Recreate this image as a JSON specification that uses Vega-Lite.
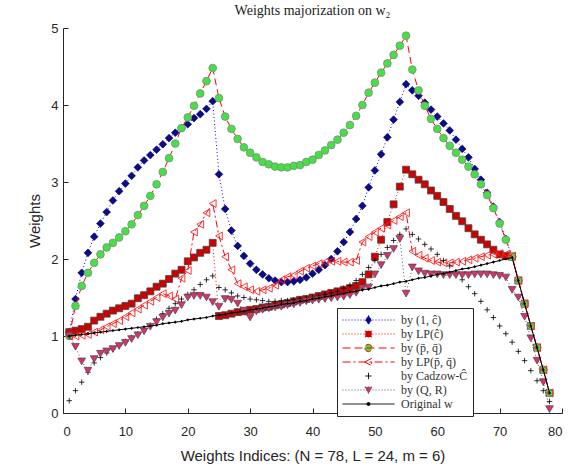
{
"$schema":"https://vega.github.io/schema/vega-lite/v6.json",
"autosize":{"type":"none"},
"width":499,"height":385,
"padding":{"left":63,"top":28,"right":14,"bottom":57},
"title":{"text":"Weights majorization on w₂","font":"Liberation Serif","fontSize":14,"fontWeight":"normal","color":"#222","offset":4},
"config":{"view":{"stroke":null},
"axis":{"grid":false,"domainColor":"#262626","tickColor":"#262626","labelColor":"#262626","titleColor":"#262626","labelFont":"Liberation Sans","labelFontSize":13,"titleFont":"Liberation Sans","titleFontSize":15,"titleFontWeight":"normal","tickSize":-5,"labelPadding":10},
"legend":{"orient":"none","legendX":274,"legendY":280,"title":null,"padding":5,"strokeColor":"#262626","fillColor":"white","labelFont":"Liberation Serif","labelFontSize":12,"labelColor":"#333","symbolSize":2704,"clipHeight":14,"labelOffset":6,"rowPadding":0,"symbolOpacity":1,"symbolStrokeWidth":1}},
"datasets":{
"a":[{"x":1,"y":1.05},{"x":2,"y":1.48},{"x":3,"y":1.82},{"x":4,"y":2.08},{"x":5,"y":2.29},{"x":6,"y":2.46},{"x":7,"y":2.61},{"x":8,"y":2.76},{"x":9,"y":2.88},{"x":10,"y":2.98},{"x":11,"y":3.08},{"x":12,"y":3.19},{"x":13,"y":3.28},{"x":14,"y":3.35},{"x":15,"y":3.42},{"x":16,"y":3.49},{"x":17,"y":3.57},{"x":18,"y":3.64},{"x":19,"y":3.70},{"x":20,"y":3.75},{"x":21,"y":3.83},{"x":22,"y":3.88},{"x":23,"y":3.95},{"x":24,"y":4.05},{"x":25,"y":3.10},{"x":26,"y":2.65},{"x":27,"y":2.37},{"x":28,"y":2.17},{"x":29,"y":2.04},{"x":30,"y":1.94},{"x":31,"y":1.86},{"x":32,"y":1.80},{"x":33,"y":1.75},{"x":34,"y":1.72},{"x":35,"y":1.70},{"x":36,"y":1.70},{"x":37,"y":1.71},{"x":38,"y":1.73},{"x":39,"y":1.76},{"x":40,"y":1.81},{"x":41,"y":1.86},{"x":42,"y":1.92},{"x":43,"y":2.00},{"x":44,"y":2.10},{"x":45,"y":2.22},{"x":46,"y":2.35},{"x":47,"y":2.52},{"x":48,"y":2.69},{"x":49,"y":2.93},{"x":50,"y":3.15},{"x":51,"y":3.36},{"x":52,"y":3.58},{"x":53,"y":3.81},{"x":54,"y":4.04},{"x":55,"y":4.27},{"x":56,"y":4.19},{"x":57,"y":4.12},{"x":58,"y":4.03},{"x":59,"y":3.94},{"x":60,"y":3.85},{"x":61,"y":3.76},{"x":62,"y":3.67},{"x":63,"y":3.55},{"x":64,"y":3.43},{"x":65,"y":3.32},{"x":66,"y":3.17},{"x":67,"y":3.03},{"x":68,"y":2.86},{"x":69,"y":2.68},{"x":70,"y":2.48},{"x":71,"y":2.26},{"x":72,"y":2.03},{"x":73,"y":1.72},{"x":74,"y":1.42},{"x":75,"y":1.13},{"x":76,"y":0.85},{"x":77,"y":0.56},{"x":78,"y":0.26}],
"b":[{"x":1,"y":1.05},{"x":2,"y":1.07},{"x":3,"y":1.09},{"x":4,"y":1.12},{"x":5,"y":1.20},{"x":6,"y":1.25},{"x":7,"y":1.29},{"x":8,"y":1.33},{"x":9,"y":1.36},{"x":10,"y":1.39},{"x":11,"y":1.42},{"x":12,"y":1.49},{"x":13,"y":1.53},{"x":14,"y":1.58},{"x":15,"y":1.64},{"x":16,"y":1.68},{"x":17,"y":1.74},{"x":18,"y":1.81},{"x":19,"y":1.86},{"x":20,"y":1.97},{"x":21,"y":2.02},{"x":22,"y":2.08},{"x":23,"y":2.12},{"x":24,"y":2.21},{"x":25,"y":1.26},{"x":26,"y":1.27},{"x":27,"y":1.29},{"x":28,"y":1.31},{"x":29,"y":1.32},{"x":30,"y":1.34},{"x":31,"y":1.35},{"x":32,"y":1.37},{"x":33,"y":1.38},{"x":34,"y":1.40},{"x":35,"y":1.41},{"x":36,"y":1.43},{"x":37,"y":1.45},{"x":38,"y":1.47},{"x":39,"y":1.48},{"x":40,"y":1.50},{"x":41,"y":1.52},{"x":42,"y":1.54},{"x":43,"y":1.56},{"x":44,"y":1.58},{"x":45,"y":1.60},{"x":46,"y":1.62},{"x":47,"y":1.65},{"x":48,"y":1.70},{"x":49,"y":1.80},{"x":50,"y":2.03},{"x":51,"y":2.25},{"x":52,"y":2.48},{"x":53,"y":2.71},{"x":54,"y":2.94},{"x":55,"y":3.16},{"x":56,"y":3.10},{"x":57,"y":3.03},{"x":58,"y":2.97},{"x":59,"y":2.89},{"x":60,"y":2.82},{"x":61,"y":2.74},{"x":62,"y":2.65},{"x":63,"y":2.56},{"x":64,"y":2.49},{"x":65,"y":2.40},{"x":66,"y":2.32},{"x":67,"y":2.25},{"x":68,"y":2.19},{"x":69,"y":2.12},{"x":70,"y":2.06},{"x":71,"y":2.04},{"x":72,"y":2.03},{"x":73,"y":1.72},{"x":74,"y":1.42},{"x":75,"y":1.13},{"x":76,"y":0.85},{"x":77,"y":0.56},{"x":78,"y":0.26}],
"c":[{"x":1,"y":1.00},{"x":2,"y":1.39},{"x":3,"y":1.65},{"x":4,"y":1.82},{"x":5,"y":1.95},{"x":6,"y":2.06},{"x":7,"y":2.15},{"x":8,"y":2.21},{"x":9,"y":2.28},{"x":10,"y":2.36},{"x":11,"y":2.45},{"x":12,"y":2.57},{"x":13,"y":2.69},{"x":14,"y":2.82},{"x":15,"y":2.97},{"x":16,"y":3.13},{"x":17,"y":3.31},{"x":18,"y":3.50},{"x":19,"y":3.70},{"x":20,"y":3.84},{"x":21,"y":3.99},{"x":22,"y":4.15},{"x":23,"y":4.31},{"x":24,"y":4.48},{"x":25,"y":4.09},{"x":26,"y":3.85},{"x":27,"y":3.69},{"x":28,"y":3.56},{"x":29,"y":3.45},{"x":30,"y":3.38},{"x":31,"y":3.32},{"x":32,"y":3.26},{"x":33,"y":3.23},{"x":34,"y":3.20},{"x":35,"y":3.19},{"x":36,"y":3.19},{"x":37,"y":3.21},{"x":38,"y":3.22},{"x":39,"y":3.26},{"x":40,"y":3.29},{"x":41,"y":3.35},{"x":42,"y":3.41},{"x":43,"y":3.48},{"x":44,"y":3.55},{"x":45,"y":3.64},{"x":46,"y":3.74},{"x":47,"y":3.86},{"x":48,"y":4.00},{"x":49,"y":4.16},{"x":50,"y":4.29},{"x":51,"y":4.42},{"x":52,"y":4.54},{"x":53,"y":4.65},{"x":54,"y":4.77},{"x":55,"y":4.90},{"x":56,"y":4.46},{"x":57,"y":4.19},{"x":58,"y":3.99},{"x":59,"y":3.82},{"x":60,"y":3.69},{"x":61,"y":3.57},{"x":62,"y":3.47},{"x":63,"y":3.38},{"x":64,"y":3.29},{"x":65,"y":3.20},{"x":66,"y":3.10},{"x":67,"y":2.97},{"x":68,"y":2.83},{"x":69,"y":2.66},{"x":70,"y":2.46},{"x":71,"y":2.25},{"x":72,"y":2.03},{"x":73,"y":1.72},{"x":74,"y":1.42},{"x":75,"y":1.13},{"x":76,"y":0.85},{"x":77,"y":0.56},{"x":78,"y":0.26}],
"d":[{"x":1,"y":1.00},{"x":2,"y":1.00},{"x":3,"y":1.01},{"x":4,"y":1.02},{"x":5,"y":1.05},{"x":6,"y":1.08},{"x":7,"y":1.12},{"x":8,"y":1.16},{"x":9,"y":1.20},{"x":10,"y":1.25},{"x":11,"y":1.30},{"x":12,"y":1.35},{"x":13,"y":1.40},{"x":14,"y":1.45},{"x":15,"y":1.50},{"x":16,"y":1.55},{"x":17,"y":1.52},{"x":18,"y":1.48},{"x":19,"y":1.75},{"x":20,"y":1.85},{"x":21,"y":2.35},{"x":22,"y":2.45},{"x":23,"y":2.60},{"x":24,"y":2.72},{"x":25,"y":2.30},{"x":26,"y":2.03},{"x":27,"y":1.86},{"x":28,"y":1.68},{"x":29,"y":1.64},{"x":30,"y":1.60},{"x":31,"y":1.58},{"x":32,"y":1.60},{"x":33,"y":1.62},{"x":34,"y":1.66},{"x":35,"y":1.73},{"x":36,"y":1.77},{"x":37,"y":1.79},{"x":38,"y":1.84},{"x":39,"y":1.88},{"x":40,"y":1.91},{"x":41,"y":1.94},{"x":42,"y":1.96},{"x":43,"y":1.97},{"x":44,"y":1.97},{"x":45,"y":1.96},{"x":46,"y":1.96},{"x":47,"y":1.98},{"x":48,"y":2.22},{"x":49,"y":2.29},{"x":50,"y":2.35},{"x":51,"y":2.40},{"x":52,"y":2.44},{"x":53,"y":2.50},{"x":54,"y":2.55},{"x":55,"y":2.60},{"x":56,"y":2.10},{"x":57,"y":2.05},{"x":58,"y":2.01},{"x":59,"y":1.98},{"x":60,"y":1.96},{"x":61,"y":1.95},{"x":62,"y":1.95},{"x":63,"y":1.96},{"x":64,"y":1.97},{"x":65,"y":1.99},{"x":66,"y":2.01},{"x":67,"y":2.03},{"x":68,"y":2.05},{"x":69,"y":2.06},{"x":70,"y":2.07},{"x":71,"y":2.06},{"x":72,"y":2.04},{"x":73,"y":1.72},{"x":74,"y":1.42},{"x":75,"y":1.13},{"x":76,"y":0.85},{"x":77,"y":0.56},{"x":78,"y":0.26}],
"e":[{"x":1,"y":0.16},{"x":2,"y":0.29},{"x":3,"y":0.40},{"x":4,"y":0.53},{"x":5,"y":0.65},{"x":6,"y":0.72},{"x":7,"y":0.78},{"x":8,"y":0.83},{"x":9,"y":0.88},{"x":10,"y":0.93},{"x":11,"y":0.98},{"x":12,"y":1.03},{"x":13,"y":1.08},{"x":14,"y":1.14},{"x":15,"y":1.22},{"x":16,"y":1.29},{"x":17,"y":1.36},{"x":18,"y":1.42},{"x":19,"y":1.48},{"x":20,"y":1.54},{"x":21,"y":1.60},{"x":22,"y":1.67},{"x":23,"y":1.73},{"x":24,"y":1.78},{"x":25,"y":1.63},{"x":26,"y":1.60},{"x":27,"y":1.56},{"x":28,"y":1.52},{"x":29,"y":1.50},{"x":30,"y":1.48},{"x":31,"y":1.47},{"x":32,"y":1.46},{"x":33,"y":1.45},{"x":34,"y":1.45},{"x":35,"y":1.46},{"x":36,"y":1.46},{"x":37,"y":1.47},{"x":38,"y":1.48},{"x":39,"y":1.49},{"x":40,"y":1.50},{"x":41,"y":1.52},{"x":42,"y":1.54},{"x":43,"y":1.56},{"x":44,"y":1.58},{"x":45,"y":1.62},{"x":46,"y":1.66},{"x":47,"y":1.72},{"x":48,"y":1.80},{"x":49,"y":1.89},{"x":50,"y":1.98},{"x":51,"y":2.06},{"x":52,"y":2.15},{"x":53,"y":2.24},{"x":54,"y":2.32},{"x":55,"y":2.39},{"x":56,"y":2.32},{"x":57,"y":2.26},{"x":58,"y":2.19},{"x":59,"y":2.13},{"x":60,"y":2.06},{"x":61,"y":1.98},{"x":62,"y":1.91},{"x":63,"y":1.82},{"x":64,"y":1.73},{"x":65,"y":1.64},{"x":66,"y":1.55},{"x":67,"y":1.45},{"x":68,"y":1.34},{"x":69,"y":1.24},{"x":70,"y":1.13},{"x":71,"y":1.03},{"x":72,"y":0.92},{"x":73,"y":0.80},{"x":74,"y":0.68},{"x":75,"y":0.55},{"x":76,"y":0.42},{"x":77,"y":0.29},{"x":78,"y":0.15}],
"f":[{"x":1,"y":1.00},{"x":2,"y":0.86},{"x":3,"y":0.67},{"x":4,"y":0.55},{"x":5,"y":0.70},{"x":6,"y":0.77},{"x":7,"y":0.80},{"x":8,"y":0.83},{"x":9,"y":0.87},{"x":10,"y":0.91},{"x":11,"y":0.96},{"x":12,"y":1.01},{"x":13,"y":1.06},{"x":14,"y":1.12},{"x":15,"y":1.18},{"x":16,"y":1.24},{"x":17,"y":1.29},{"x":18,"y":1.33},{"x":19,"y":1.40},{"x":20,"y":1.50},{"x":21,"y":1.52},{"x":22,"y":1.52},{"x":23,"y":1.50},{"x":24,"y":1.44},{"x":25,"y":1.38},{"x":26,"y":1.48},{"x":27,"y":1.47},{"x":28,"y":1.42},{"x":29,"y":1.33},{"x":30,"y":1.24},{"x":31,"y":1.32},{"x":32,"y":1.34},{"x":33,"y":1.36},{"x":34,"y":1.37},{"x":35,"y":1.38},{"x":36,"y":1.40},{"x":37,"y":1.41},{"x":38,"y":1.43},{"x":39,"y":1.45},{"x":40,"y":1.46},{"x":41,"y":1.47},{"x":42,"y":1.48},{"x":43,"y":1.49},{"x":44,"y":1.50},{"x":45,"y":1.51},{"x":46,"y":1.53},{"x":47,"y":1.56},{"x":48,"y":1.62},{"x":49,"y":1.63},{"x":50,"y":1.80},{"x":51,"y":1.92},{"x":52,"y":2.04},{"x":53,"y":2.13},{"x":54,"y":2.26},{"x":55,"y":1.55},{"x":56,"y":1.89},{"x":57,"y":1.84},{"x":58,"y":1.81},{"x":59,"y":1.80},{"x":60,"y":1.80},{"x":61,"y":1.79},{"x":62,"y":1.79},{"x":63,"y":1.79},{"x":64,"y":1.79},{"x":65,"y":1.79},{"x":66,"y":1.80},{"x":67,"y":1.80},{"x":68,"y":1.80},{"x":69,"y":1.79},{"x":70,"y":1.78},{"x":71,"y":1.76},{"x":72,"y":1.60},{"x":73,"y":1.50},{"x":74,"y":1.25},{"x":75,"y":0.97},{"x":76,"y":0.68},{"x":77,"y":0.40},{"x":78,"y":0.05}],
"g":[{"x":1,"y":1.00},{"x":2,"y":1.01},{"x":3,"y":1.02},{"x":4,"y":1.03},{"x":5,"y":1.04},{"x":6,"y":1.05},{"x":7,"y":1.06},{"x":8,"y":1.07},{"x":9,"y":1.08},{"x":10,"y":1.09},{"x":11,"y":1.10},{"x":12,"y":1.11},{"x":13,"y":1.12},{"x":14,"y":1.13},{"x":15,"y":1.14},{"x":16,"y":1.16},{"x":17,"y":1.17},{"x":18,"y":1.18},{"x":19,"y":1.19},{"x":20,"y":1.21},{"x":21,"y":1.22},{"x":22,"y":1.23},{"x":23,"y":1.24},{"x":24,"y":1.26},{"x":25,"y":1.27},{"x":26,"y":1.28},{"x":27,"y":1.30},{"x":28,"y":1.31},{"x":29,"y":1.32},{"x":30,"y":1.34},{"x":31,"y":1.35},{"x":32,"y":1.36},{"x":33,"y":1.38},{"x":34,"y":1.39},{"x":35,"y":1.41},{"x":36,"y":1.42},{"x":37,"y":1.43},{"x":38,"y":1.45},{"x":39,"y":1.46},{"x":40,"y":1.48},{"x":41,"y":1.49},{"x":42,"y":1.51},{"x":43,"y":1.52},{"x":44,"y":1.54},{"x":45,"y":1.55},{"x":46,"y":1.57},{"x":47,"y":1.58},{"x":48,"y":1.60},{"x":49,"y":1.61},{"x":50,"y":1.63},{"x":51,"y":1.65},{"x":52,"y":1.66},{"x":53,"y":1.68},{"x":54,"y":1.70},{"x":55,"y":1.71},{"x":56,"y":1.73},{"x":57,"y":1.75},{"x":58,"y":1.76},{"x":59,"y":1.78},{"x":60,"y":1.80},{"x":61,"y":1.81},{"x":62,"y":1.83},{"x":63,"y":1.85},{"x":64,"y":1.87},{"x":65,"y":1.88},{"x":66,"y":1.90},{"x":67,"y":1.92},{"x":68,"y":1.94},{"x":69,"y":1.96},{"x":70,"y":1.98},{"x":71,"y":2.00},{"x":72,"y":2.02},{"x":73,"y":1.72},{"x":74,"y":1.42},{"x":75,"y":1.13},{"x":76,"y":0.85},{"x":77,"y":0.56},{"x":78,"y":0.26}],
"legend":[{"s":"by (1, ĉ)    "},{"s":"by LP(ĉ)    "},{"s":"by (p̄, q̄)    "},{"s":"by LP(p̄, q̄)    "},{"s":"by Cadzow-Ĉ    "},{"s":"by (Q, R)    "},{"s":"Original w    "}]
},
"layer":[
{"data":{"name":"a"},"mark":{"type":"line","color":"#0000ff","strokeWidth":1,"strokeDash":[1,2.5]},"encoding":{"x":{"field":"x","type":"quantitative","scale":{"domain":[0,80],"nice":false},"axis":{"title":"Weights Indices: (N = 78, L = 24, m = 6)","values":[0,10,20,30,40,50,60,70,80],"labelPadding":17,"titlePadding":10}},"y":{"field":"y","type":"quantitative","scale":{"domain":[0,5],"nice":false},"axis":{"title":"Weights","values":[0,0.5,1,1.5,2,2.5,3,3.5,4,4.5,5],"format":"~g","titlePadding":8}}}},
{"data":{"name":"a"},"mark":{"type":"point","shape":"diamond","filled":true,"size":60,"fill":"#0a0a90","stroke":"#000045","strokeWidth":0.6,"opacity":1},"encoding":{"x":{"field":"x","type":"quantitative"},"y":{"field":"y","type":"quantitative"}}},
{"data":{"name":"b"},"mark":{"type":"line","color":"#ff0000","strokeWidth":1,"strokeDash":[1,2.5]},"encoding":{"x":{"field":"x","type":"quantitative"},"y":{"field":"y","type":"quantitative"}}},
{"data":{"name":"b"},"mark":{"type":"point","shape":"square","filled":true,"size":48,"fill":"#d00000","stroke":"#444444","strokeWidth":0.8,"opacity":1},"encoding":{"x":{"field":"x","type":"quantitative"},"y":{"field":"y","type":"quantitative"}}},
{"data":{"name":"c"},"mark":{"type":"line","color":"#ff0000","strokeWidth":1,"strokeDash":[7,4]},"encoding":{"x":{"field":"x","type":"quantitative"},"y":{"field":"y","type":"quantitative"}}},
{"data":{"name":"c"},"mark":{"type":"point","shape":"circle","filled":true,"size":60,"fill":"#44e044","stroke":"#888888","strokeWidth":0.8,"opacity":1},"encoding":{"x":{"field":"x","type":"quantitative"},"y":{"field":"y","type":"quantitative"}}},
{"data":{"name":"d"},"mark":{"type":"line","color":"#ff0000","strokeWidth":1,"strokeDash":[7,3,2,3]},"encoding":{"x":{"field":"x","type":"quantitative"},"y":{"field":"y","type":"quantitative"}}},
{"data":{"name":"d"},"mark":{"type":"point","shape":"triangle-left","filled":false,"size":60,"stroke":"#ff2020","strokeWidth":0.9,"opacity":1},"encoding":{"x":{"field":"x","type":"quantitative"},"y":{"field":"y","type":"quantitative"}}},
{"data":{"name":"e"},"mark":{"type":"point","shape":"M-1,0H1M0,-1V1","filled":false,"size":30,"stroke":"#000000","strokeWidth":0.8,"opacity":1},"encoding":{"x":{"field":"x","type":"quantitative"},"y":{"field":"y","type":"quantitative"}}},
{"data":{"name":"f"},"mark":{"type":"line","color":"#555555","strokeWidth":1,"strokeDash":[1,2.5]},"encoding":{"x":{"field":"x","type":"quantitative"},"y":{"field":"y","type":"quantitative"}}},
{"data":{"name":"f"},"mark":{"type":"point","shape":"triangle-down","filled":true,"size":60,"fill":"#d6336e","stroke":"#444444","strokeWidth":0.7,"opacity":1},"encoding":{"x":{"field":"x","type":"quantitative"},"y":{"field":"y","type":"quantitative"}}},
{"data":{"name":"g"},"mark":{"type":"line","color":"#000000","strokeWidth":1},"encoding":{"x":{"field":"x","type":"quantitative"},"y":{"field":"y","type":"quantitative"}}},
{"data":{"name":"g"},"mark":{"type":"point","shape":"diamond","filled":true,"size":10,"fill":"#000000","opacity":1},"encoding":{"x":{"field":"x","type":"quantitative"},"y":{"field":"y","type":"quantitative"}}},
{"data":{"name":"legend"},"mark":{"type":"point","filled":true,"size":2704,"opacity":0},
"encoding":{
"shape":{"field":"s","type":"nominal","sort":null,"scale":{"domain":["by (1, ĉ)    ","by LP(ĉ)    ","by (p̄, q̄)    ","by LP(p̄, q̄)    ","by Cadzow-Ĉ    ","by (Q, R)    ","Original w    "],"range":["M-1,0H1M0,-0.17L0.12,0L0,0.17L-0.12,0Z","M-1,0H1M-0.12,-0.12H0.12V0.12H-0.12Z","M-1,0H1M-0.14,0A0.14,0.14 0 1,0 0.14,0A0.14,0.14 0 1,0 -0.14,0Z","M-1,0H1M-0.14,0L0.12,-0.14L0.12,0.14Z","M-0.12,0H0.12M0,-0.12V0.12","M-1,0H1M-0.14,-0.12H0.14L0,0.14Z","M-1,0H1M-0.06,0A0.06,0.06 0 1,0 0.06,0A0.06,0.06 0 1,0 -0.06,0Z"]}},
"fill":{"field":"s","type":"nominal","sort":null,"scale":{"domain":["by (1, ĉ)    ","by LP(ĉ)    ","by (p̄, q̄)    ","by LP(p̄, q̄)    ","by Cadzow-Ĉ    ","by (Q, R)    ","Original w    "],"range":["#0a0a90","#d00000","#44e044","transparent","transparent","#d6336e","#000000"]}},
"stroke":{"field":"s","type":"nominal","sort":null,"scale":{"domain":["by (1, ĉ)    ","by LP(ĉ)    ","by (p̄, q̄)    ","by LP(p̄, q̄)    ","by Cadzow-Ĉ    ","by (Q, R)    ","Original w    "],"range":["#0000ff","#ff0000","#ff0000","#ff0000","#000000","#555555","#000000"]}},
"strokeDash":{"field":"s","type":"nominal","sort":null,"scale":{"domain":["by (1, ĉ)    ","by LP(ĉ)    ","by (p̄, q̄)    ","by LP(p̄, q̄)    ","by Cadzow-Ĉ    ","by (Q, R)    ","Original w    "],"range":[[1,2],[1,2],[8,4],[8,3,2,3],[1,0],[1,2],[1,0]]}}
}}
]
}
